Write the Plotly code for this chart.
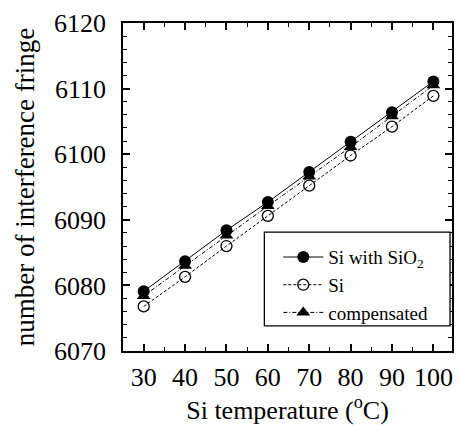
import plotly.graph_objects as go

temps = [30, 40, 50, 60, 70, 80, 90, 100]
si_with_sio2 = [6079.1, 6083.7, 6088.4, 6092.7, 6097.3, 6101.9, 6106.4, 6111.1]
si_only = [6076.8, 6081.3, 6086.0, 6090.6, 6095.2, 6099.8, 6104.2, 6108.9]
compensated = [6078.4, 6083.0, 6087.6, 6092.1, 6096.6, 6101.1, 6105.8, 6110.5]

x_ticks = [30, 40, 50, 60, 70, 80, 90, 100]
y_ticks = [6070, 6080, 6090, 6100, 6110, 6120]

FONT = "Times New Roman, Liberation Serif, serif"

fig = go.Figure()
fig.add_trace(go.Scatter(
    x=temps, y=si_only, name="Si", mode="lines+markers", legendrank=2,
    line=dict(color="black", width=1, dash="3px,2px"),
    marker=dict(symbol="circle-open", size=11, color="black", line=dict(width=1.3))))
fig.add_trace(go.Scatter(
    x=temps, y=compensated, name="compensated", mode="lines+markers", legendrank=3,
    line=dict(color="black", width=1, dash="4px,2px,1px,2px"),
    marker=dict(symbol="triangle-up", size=12, color="black")))
fig.add_trace(go.Scatter(
    x=temps, y=si_with_sio2, name="Si with SiO<sub>2</sub>", mode="lines+markers", legendrank=1,
    line=dict(color="black", width=1),
    marker=dict(symbol="circle", size=12, color="black")))

axis_common = dict(
    showline=True, linecolor="black", linewidth=1.5, mirror="ticks",
    ticks="inside", tickcolor="black", tickwidth=1.5, ticklen=7,
    showgrid=False, zeroline=False,
    tickfont=dict(family=FONT, size=26, color="black"),
)

fig.update_xaxes(
    range=[25, 104.5], tickvals=x_ticks, ticktext=[str(v) for v in x_ticks],
    minor=dict(ticks="inside", dtick=5, tick0=25, ticklen=4, tickcolor="black", tickwidth=1.2),
    ticklabelstandoff=2,
    title=dict(text="Si temperature (<sup>o</sup>C)", font=dict(family=FONT, size=26, color="black"), standoff=9),
    **axis_common)
fig.update_yaxes(
    range=[6070, 6120], tickvals=y_ticks, ticktext=[str(v) for v in y_ticks],
    minor=dict(ticks="inside", dtick=2, tick0=6070, ticklen=4, tickcolor="black", tickwidth=1.2),
    ticklabelstandoff=10,
    title=dict(text="number of interference fringe", font=dict(family=FONT, size=27, color="black"), standoff=12),
    **axis_common)

# legend frame
fig.add_shape(type="rect", xref="paper", yref="paper",
              x0=0.4297, x1=0.994, y0=0.0767, y1=0.3624,
              line=dict(color="black", width=1.3), fillcolor="white", layer="above")

fig.update_layout(
    width=459, height=425,
    margin=dict(l=123, r=5.5, t=23, b=69.5),
    paper_bgcolor="white", plot_bgcolor="white",
    legend=dict(
        x=0.472, y=0.344, xanchor="left", yanchor="top",
        bgcolor="rgba(0,0,0,0)", borderwidth=0,
        font=dict(family=FONT, size=19, color="black"),
        itemwidth=40, tracegroupgap=0),
)

fig.write_html("out.html")
